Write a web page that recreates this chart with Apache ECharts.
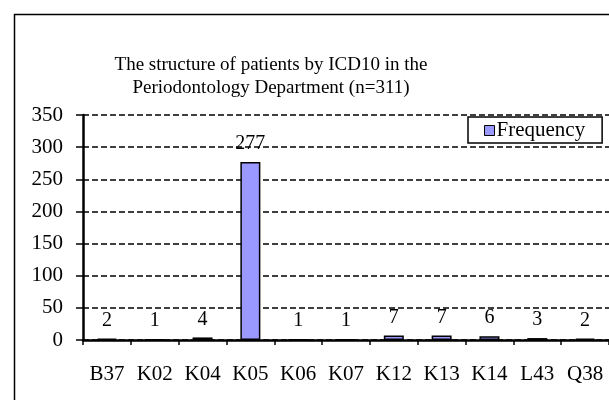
<!DOCTYPE html>
<html>
<head>
<meta charset="utf-8">
<script src="https://cdn.jsdelivr.net/npm/echarts@6/dist/echarts.min.js"></script>
<style>
html,body{margin:0;padding:0;background:#fff;}
#chart{width:609px;height:400px;}
</style>
</head>
<body>
<div id="chart"></div>
<script>
const categories = ['B37','K02','K04','K05','K06','K07','K12','K13','K14','L43','Q38'];
const frequency = [2,1,4,277,1,1,7,7,6,3,2];
const seriesName = 'Frequency';
const titleText = 'The structure of patients by ICD10 in the\nPeriodontology Department (n=311)';
const yMin = 0, yMax = 350, yStep = 50;

const FONT = '"Liberation Serif", "Times New Roman", serif';
const titleSize = 19;

const chart = echarts.init(document.getElementById('chart'), null, {renderer: 'canvas'});
chart.setOption({
  backgroundColor: '#fff',
  animation: false,
  textStyle: {fontFamily: FONT, color: '#000'},
  title: {
    text: titleText,
    left: 271,
    top: 54,
    padding: 0,
    textAlign: 'center',
    textStyle: {fontFamily: FONT, fontSize: titleSize, fontWeight: 'normal', color: '#000', lineHeight: 23}
  },
  graphic: [{
    type: 'rect', left: 12, top: 12, silent: true,
    shape: {width: 640, height: 420},
    style: {fill: 'none', stroke: '#000', lineWidth: 1.5}
  }],
  legend: {
    data: [seriesName],
    left: 468, top: 117,
    orient: 'horizontal',
    borderColor: '#000', borderWidth: 1.5,
    padding: [3, 17, 2, 16],
    itemWidth: 10, itemHeight: 10,
    icon: 'rect',
    itemStyle: {borderColor: '#000', borderWidth: 1},
    textStyle: {fontFamily: FONT, fontSize: 21, color: '#000', padding: [0,0,0,-3]},
    backgroundColor: '#fff'
  },
  grid: {left: 83, top: 115, width: 531, height: 225, containLabel: false},
  xAxis: {
    type: 'category',
    data: categories,
    axisLine: {lineStyle: {color: '#000', width: 2.5}},
    axisTick: {show: true, alignWithLabel: false, length: 5, lineStyle: {color: '#000', width: 1.5}},
    axisLabel: {fontFamily: FONT, fontSize: 21, color: '#000', margin: 24, interval: 0},
    splitLine: {show: false}
  },
  yAxis: {
    type: 'value',
    min: yMin, max: yMax, interval: yStep,
    axisLine: {show: true, lineStyle: {color: '#000', width: 2.5}},
    axisTick: {show: true, length: 7, lineStyle: {color: '#000', width: 1.5}},
    axisLabel: {fontFamily: FONT, fontSize: 21, color: '#000', margin: 20},
    splitLine: {show: true, lineStyle: {color: '#000', width: 1.5, type: [6, 3]}}
  },
  series: [{
    name: seriesName,
    type: 'bar',
    data: frequency,
    barWidth: 20,
    itemStyle: {color: '#9999FF', borderColor: '#000', borderWidth: 1.5},
    label: {show: true, position: 'top', distance: 8, fontFamily: FONT, fontSize: 20, color: '#000'}
  }]
});
</script>
</body>
</html>
